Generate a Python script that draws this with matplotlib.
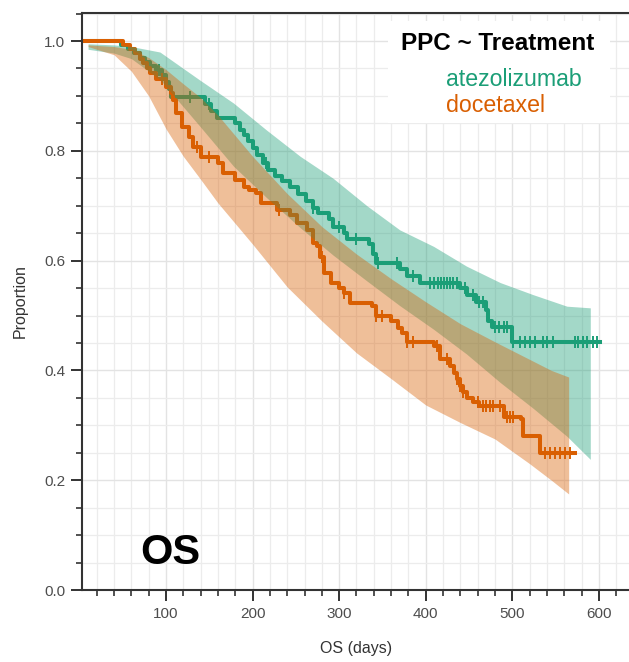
"""Posterior predictive check of OS by treatment (KM curves + predictive bands)."""

import numpy as np
import matplotlib
matplotlib.use("Agg")
import matplotlib.pyplot as plt
from matplotlib.patches import Rectangle
from matplotlib.ticker import MultipleLocator

plt.rcParams["font.family"] = ["Liberation Sans", "DejaVu Sans"]

TEAL = "#1B9E77"
ORANGE = "#D95F02"

# Kaplan-Meier steps (time of drop, survival after drop)
atezo_t = [0, 48, 56, 63, 70, 76, 82, 88, 95, 100, 104, 106, 145, 152, 159, 180,
           185, 190, 195, 200, 205, 212, 218, 226, 234, 243, 252, 262, 270, 276,
           288, 293, 305, 309, 334, 339, 343, 370, 378, 393, 440, 448, 458, 470,
           472, 476, 499, 601]
atezo_s = [1.0, 0.993, 0.985, 0.978, 0.970, 0.962, 0.955, 0.947, 0.938, 0.926,
           0.912, 0.898, 0.885, 0.872, 0.860, 0.850, 0.838, 0.828, 0.818, 0.806,
           0.792, 0.778, 0.765, 0.755, 0.745, 0.735, 0.722, 0.708, 0.695, 0.687,
           0.675, 0.662, 0.650, 0.640, 0.630, 0.612, 0.596, 0.585, 0.572, 0.560,
           0.551, 0.538, 0.525, 0.510, 0.490, 0.480, 0.451, 0.451]
atezo_cens = [92, 128, 150, 215, 270, 300, 320, 345, 367, 385, 405, 410, 414, 418,
              421, 425, 428, 432, 436, 445, 455, 462, 466, 480, 485, 490, 494, 501,
              509, 515, 520, 526, 535, 540, 547, 572, 576, 581, 586, 593, 598]

doce_t = [0, 50, 58, 64, 70, 74, 78, 81, 88, 100, 106, 108, 112, 118, 126, 131,
          140, 160, 166, 180, 190, 196, 204, 210, 228, 243, 251, 263, 270, 274,
          278, 283, 290, 300, 305, 312, 338, 343, 360, 368, 372, 378, 410, 416,
          428, 433, 436, 440, 443, 448, 455, 462, 490, 510, 512, 532, 572]
doce_s = [1.0, 0.993, 0.985, 0.978, 0.968, 0.960, 0.950, 0.942, 0.930, 0.916,
          0.905, 0.893, 0.869, 0.844, 0.825, 0.807, 0.789, 0.778, 0.760, 0.747,
          0.735, 0.729, 0.724, 0.705, 0.693, 0.684, 0.669, 0.656, 0.632, 0.626,
          0.607, 0.578, 0.560, 0.550, 0.541, 0.523, 0.517, 0.499, 0.490, 0.478,
          0.469, 0.451, 0.444, 0.420, 0.408, 0.396, 0.384, 0.371, 0.360, 0.350,
          0.342, 0.335, 0.316, 0.311, 0.280, 0.250, 0.250]
doce_cens = [95, 136, 150, 230, 280, 305, 343, 350, 378, 385, 413, 424, 436, 440,
             443, 460, 466, 470, 474, 478, 486, 494, 497, 501, 538, 543, 549, 555,
             561, 567]

# posterior predictive bands
atezo_band_t = [10, 40, 60, 93, 139, 178, 216, 255, 293, 332, 370, 409, 447, 486,
                524, 563, 590]
atezo_upper = [0.995, 0.993, 0.990, 0.980, 0.929, 0.887, 0.838, 0.790, 0.750,
               0.700, 0.656, 0.626, 0.590, 0.560, 0.538, 0.517, 0.514]
atezo_lower = [0.985, 0.978, 0.968, 0.930, 0.845, 0.772, 0.715, 0.660, 0.610,
               0.563, 0.518, 0.475, 0.430, 0.378, 0.331, 0.280, 0.238]

doce_band_t = [10, 40, 60, 80, 100, 120, 140, 160, 200, 240, 280, 320, 360, 400,
               440, 480, 520, 545, 565]
doce_upper = [0.993, 0.990, 0.985, 0.970, 0.948, 0.922, 0.897, 0.865, 0.790,
              0.722, 0.662, 0.612, 0.567, 0.525, 0.485, 0.452, 0.420, 0.400, 0.388]
doce_lower = [0.990, 0.975, 0.945, 0.900, 0.840, 0.790, 0.748, 0.705, 0.630,
              0.552, 0.490, 0.432, 0.385, 0.337, 0.305, 0.275, 0.230, 0.200, 0.175]

legend_title = "PPC ~ Treatment"
legend_labels = ["atezolizumab", "docetaxel"]


def km_at(times, surv, t):
    idx = np.searchsorted(times, t, side="right") - 1
    return np.asarray(surv)[idx]


W, H = 629, 662
fig = plt.figure(figsize=(W / 100, H / 100), dpi=100)
ax = fig.add_axes([82 / W, 72 / H, 549 / W, 577.5 / H])

# lines first, bands drawn over them (as in the original)
for t, s, cens, col in [(atezo_t, atezo_s, atezo_cens, TEAL),
                        (doce_t, doce_s, doce_cens, ORANGE)]:
    ax.step(t, s, where="post", color=col, lw=2.9, zorder=2)
    ax.plot(cens, km_at(t, s, cens), ls="none", marker="|", ms=9, mew=1.4,
            color=col, zorder=2)

ax.fill_between(atezo_band_t, atezo_lower, atezo_upper, color=TEAL, alpha=0.4,
                lw=0, zorder=3)
ax.fill_between(doce_band_t, doce_lower, doce_upper, color=ORANGE, alpha=0.4,
                lw=0, zorder=4)

ax.set_xlim(3, 637)
ax.set_ylim(0, 1.052)
ax.xaxis.set_major_locator(MultipleLocator(100))
ax.xaxis.set_minor_locator(MultipleLocator(20))
ax.yaxis.set_major_locator(MultipleLocator(0.2))
ax.yaxis.set_minor_locator(MultipleLocator(0.05))
ax.set_xticks([100, 200, 300, 400, 500, 600])
ax.set_yticklabels([f"{v:.1f}" for v in ax.get_yticks()])

ax.grid(which="major", color="#E3E3E3", lw=1.0, zorder=0)
ax.grid(which="minor", color="#ECECEC", lw=0.9, zorder=0)
ax.set_axisbelow(True)

for side in ["left", "bottom", "top", "right"]:
    ax.spines[side].set_color("#333333")
    ax.spines[side].set_linewidth(1.5)
ax.tick_params(which="major", length=8, width=1.4, color="#333333",
               labelsize=11, labelcolor="#4D4D4D", pad=4)
ax.tick_params(which="minor", length=4.5, width=1.2, color="#333333")

ax.set_xlabel("OS (days)", fontsize=11.5, color="#333333", labelpad=15)
ax.set_ylabel("Proportion", fontsize=11.5, color="#333333", labelpad=12)

ax.text(70, 0.047, "OS", fontsize=30, fontweight="bold", color="black")

# legend: white panel with coloured labels, no keys
px = lambda x, y: (x / W, 1 - y / H)
fig.patches.append(Rectangle(px(388, 123), 222 / W, 102 / H,
                             transform=fig.transFigure, facecolor="white",
                             edgecolor="none", zorder=5))
fig.text(*px(401, 44), legend_title, fontsize=17.5, fontweight="bold",
         color="black", va="center", ha="left", zorder=6)
for (lab, col), y in zip(zip(legend_labels, [TEAL, ORANGE]), [80, 105]):
    fig.text(*px(446, y), lab, fontsize=16.7, color=col, va="center",
             ha="left", zorder=6)

fig.savefig("out.png", dpi=100)
